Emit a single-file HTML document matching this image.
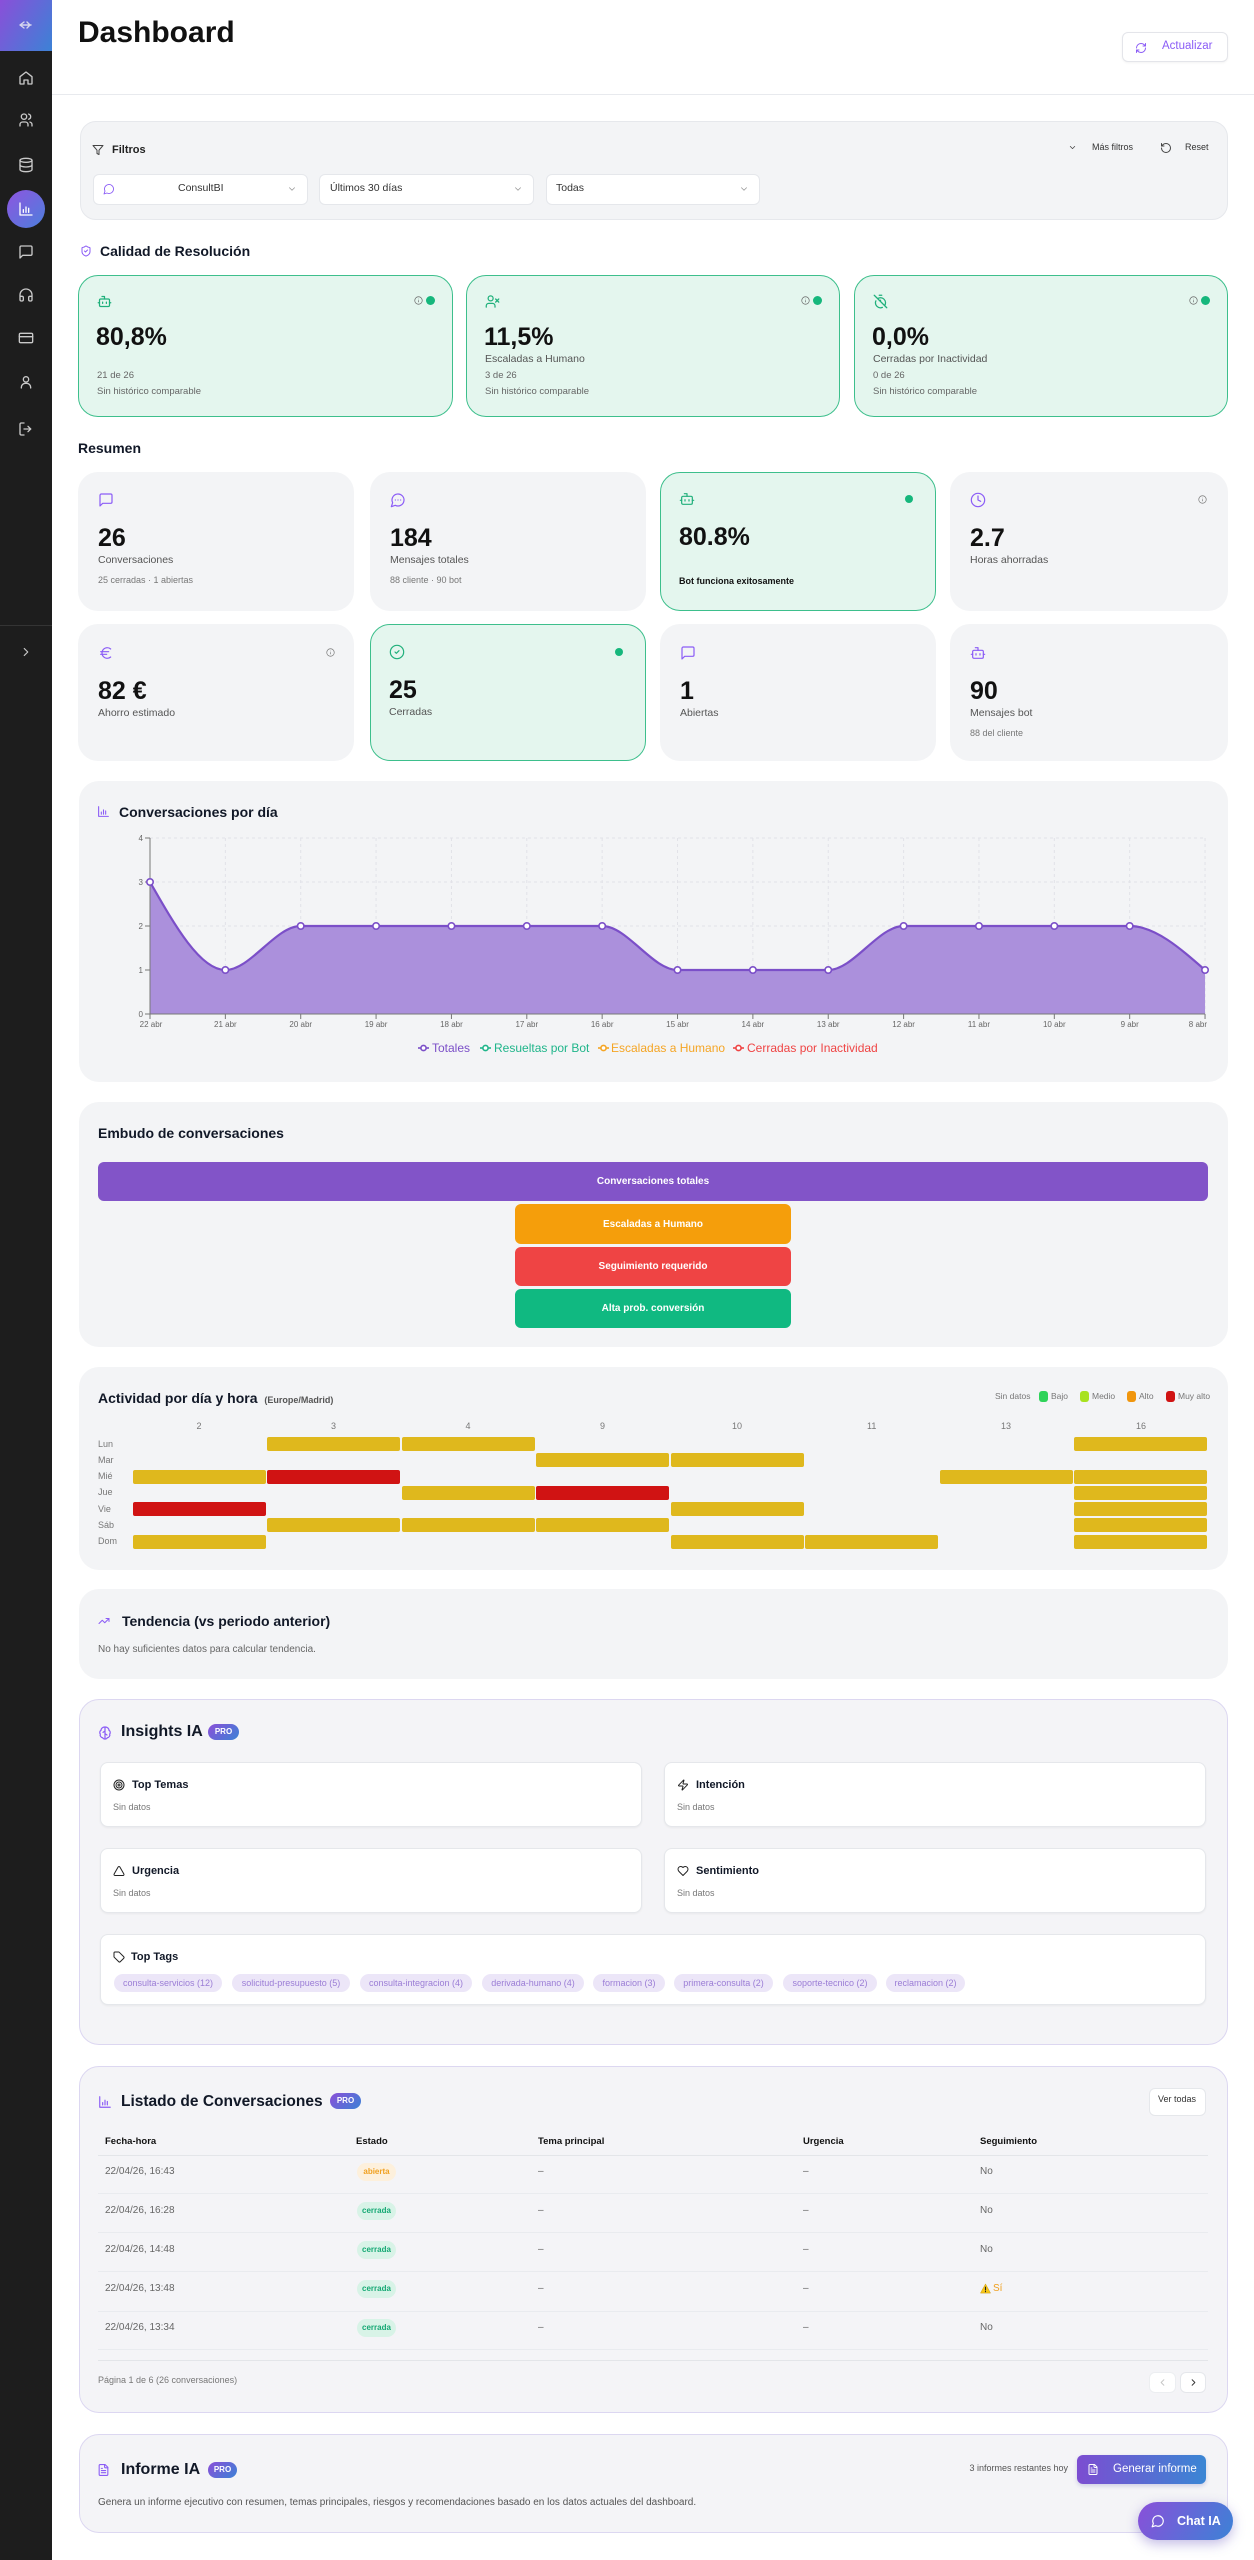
<!DOCTYPE html>
<html lang="es"><head><meta charset="utf-8"><title>Dashboard</title>
<style>
*{box-sizing:border-box;margin:0;padding:0}
html,body{width:1254px;height:2560px;overflow:hidden;background:#fff}
body{position:relative;font-family:"Liberation Sans",Arial,sans-serif;color:#111827}
.a{position:absolute}
.t{position:absolute;white-space:nowrap;line-height:1}
.b{font-weight:700}
.card{position:absolute;background:#f3f4f6;border-radius:20px}
.gr{background:#e4f6ee;border:1.5px solid #3dbf8c}
.lav{border:1.5px solid #dcd7f1;background:#f4f4f7}
svg.i{position:absolute;fill:none;stroke-linecap:round;stroke-linejoin:round;stroke-width:2}
.sb{stroke:#c9c9c9;width:16px;height:16px;left:18px}
.pu{stroke:#8b5cf6}
.gn{stroke:#20b07b}
.pro{position:absolute;height:16px;border-radius:8px;background:linear-gradient(135deg,#8b4fd8,#3b82d6);color:#fff;font-size:8px;font-weight:700;text-align:center;line-height:16px}
.sel{position:absolute;top:174px;height:31px;background:#fff;border:1px solid #e5e7eb;border-radius:6px}
.lbl{font-size:10.5px;color:#555}
.sub{font-size:9px;color:#777}
.num{font-size:25px;font-weight:700;color:#111}
.wc{position:absolute;background:#fff;border:1px solid #e5e7eb;border-radius:8px;box-shadow:0 1px 2px rgba(0,0,0,.05)}
.fb{position:absolute;border-radius:6px;color:#fff;font-weight:700;font-size:10px;display:flex;align-items:center;justify-content:center}
.hc{position:absolute;height:14px;width:133px;border-radius:2px;background:#dfb81d}
.hr{background:#d01313}
.chip{position:absolute;top:39px;height:18px;border-radius:9px;background:#ece6f8;color:#9b7dd6;font-size:9px;line-height:18px;text-align:center;white-space:nowrap}
.badge{position:absolute;left:357px;width:39px;height:18px;border-radius:9px;font-size:8px;font-weight:700;line-height:18px;text-align:center}
.ab{background:#fdf0dc;color:#f0a020}
.ce{background:#d8f3e7;color:#16a974}
.dot{position:absolute;width:9px;height:9px;border-radius:50%;background:#16b77c}
.row{font-size:10px;color:#666}
.hd{font-size:9.5px;font-weight:700;color:#111}
.hl{font-size:9px;color:#777}
.sep{position:absolute;left:98px;width:1110px;height:1px;background:#e9ebef}
</style></head><body>

<!-- SIDEBAR -->
<div class="a" style="left:0;top:0;width:52px;height:2560px;background:#1d1d1d"></div>
<div class="a" style="left:0;top:0;width:52px;height:51px;background:linear-gradient(120deg,#8a4fd9,#3c82d6)"></div>
<svg class="i" style="left:19px;top:20px;width:14px;height:10px" viewBox="0 0 14 10"><path d="M1 5h11M5 2 1 5l4 3M8 2l3 3-3 3" stroke="#d6d6ee" stroke-width="1.4"/></svg>
<svg class="i sb" style="top:70px" viewBox="0 0 24 24"><path d="M3 10 12 3l9 7v10a1 1 0 0 1-1 1h-5v-6h-6v6H4a1 1 0 0 1-1-1z"/></svg>
<svg class="i sb" style="top:112px" viewBox="0 0 24 24"><circle cx="9" cy="7" r="4"/><path d="M3 21v-2a4 4 0 0 1 4-4h4a4 4 0 0 1 4 4v2"/><path d="M16 3.13a4 4 0 0 1 0 7.75"/><path d="M21 21v-2a4 4 0 0 0-3-3.85"/></svg>
<svg class="i sb" style="top:157px" viewBox="0 0 24 24"><ellipse cx="12" cy="5" rx="9" ry="3"/><path d="M3 5v14c0 1.66 4 3 9 3s9-1.34 9-3V5"/><path d="M3 12c0 1.66 4 3 9 3s9-1.34 9-3"/></svg>
<div class="a" style="left:6.5px;top:190px;width:38px;height:38px;border-radius:50%;background:linear-gradient(135deg,#8e55e0,#4c7fdc)"></div>
<svg class="i" style="left:18px;top:201px;width:16px;height:16px;stroke:#fff" viewBox="0 0 24 24"><path d="M3 3v18h18"/><path d="M8 17v-4M12 17V9M16 17v-6"/></svg>
<svg class="i sb" style="top:244px" viewBox="0 0 24 24"><path d="M21 15a2 2 0 0 1-2 2H7l-4 4V5a2 2 0 0 1 2-2h14a2 2 0 0 1 2 2z"/></svg>
<svg class="i sb" style="top:287px" viewBox="0 0 24 24"><path d="M3 14h3a2 2 0 0 1 2 2v3a2 2 0 0 1-2 2H5a2 2 0 0 1-2-2v-7a9 9 0 0 1 18 0v7a2 2 0 0 1-2 2h-1a2 2 0 0 1-2-2v-3a2 2 0 0 1 2-2h3"/></svg>
<svg class="i sb" style="top:330px" viewBox="0 0 24 24"><rect x="2" y="5" width="20" height="14" rx="2"/><path d="M2 10h20"/></svg>
<svg class="i sb" style="top:374px" viewBox="0 0 24 24"><circle cx="12" cy="8" r="4"/><path d="M5 21v-1a6 6 0 0 1 6-6h2a6 6 0 0 1 6 6v1"/></svg>
<svg class="i sb" style="top:421px" viewBox="0 0 24 24"><path d="M9 3H5a2 2 0 0 0-2 2v14a2 2 0 0 0 2 2h4"/><path d="m15 8 4 4-4 4"/><path d="M19 12H9"/></svg>
<div class="a" style="left:0;top:625px;width:52px;height:1px;background:#343434"></div>
<svg class="i" style="left:19px;top:645px;width:14px;height:14px;stroke:#c9c9c9" viewBox="0 0 24 24"><path d="m9 18 6-6-6-6"/></svg>

<!-- HEADER -->
<div class="t b" style="left:78px;top:18px;font-size:30px;color:#111">Dashboard</div>
<div class="a" style="left:52px;top:94px;width:1202px;height:1px;background:#e8eaee"></div>
<div class="a" style="left:1122px;top:32px;width:106px;height:30px;border:1px solid #e4e5ea;border-radius:6px;background:#fff;box-shadow:0 1px 2px rgba(0,0,0,.05)"></div>
<svg class="i pu" style="left:1135px;top:42px;width:12px;height:12px" viewBox="0 0 24 24"><path d="M3 12a9 9 0 0 1 9-9 9.75 9.75 0 0 1 6.74 2.74L21 8"/><path d="M21 3v5h-5"/><path d="M21 12a9 9 0 0 1-9 9 9.75 9.75 0 0 1-6.74-2.74L3 16"/><path d="M8 16H3v5"/></svg>
<div class="t" style="left:1162px;top:41px;font-size:11.5px;color:#8b5cf6">Actualizar</div>

<!-- FILTERS -->
<div class="a" style="left:80px;top:121px;width:1148px;height:99px;background:#f3f4f6;border:1px solid #e6e8ec;border-radius:16px"></div>
<svg class="i" style="left:92px;top:144px;width:12px;height:12px;stroke:#444" viewBox="0 0 24 24"><path d="M22 3H2l8 9.46V19l4 2v-8.54z"/></svg>
<div class="t b" style="left:112px;top:145px;font-size:11px;color:#222">Filtros</div>
<svg class="i" style="left:1068px;top:143px;width:9px;height:9px;stroke:#444" viewBox="0 0 24 24"><path d="m6 9 6 6 6-6"/></svg>
<div class="t" style="left:1092px;top:142.5px;font-size:9px;color:#333">Más filtros</div>
<svg class="i" style="left:1160px;top:142px;width:12px;height:12px;stroke:#444" viewBox="0 0 24 24"><path d="M3 12a9 9 0 1 0 9-9 9.75 9.75 0 0 0-6.74 2.74L3 8"/><path d="M3 3v5h5"/></svg>
<div class="t" style="left:1185px;top:142.5px;font-size:9px;color:#333">Reset</div>
<div class="sel" style="left:93px;width:215px"></div>
<div class="sel" style="left:319px;width:215px"></div>
<div class="sel" style="left:546px;width:214px"></div>
<svg class="i pu" style="left:103px;top:183px;width:12px;height:12px;stroke-width:1.8" viewBox="0 0 24 24"><path d="M7.9 20A9 9 0 1 0 4 16.1L2 22Z"/></svg>
<div class="t" style="left:178px;top:183px;font-size:10.5px;color:#333">ConsultBI</div>
<div class="t" style="left:330px;top:183px;font-size:10.5px;color:#333">Últimos 30 días</div>
<div class="t" style="left:556px;top:183px;font-size:10.5px;color:#333">Todas</div>
<svg class="i" style="left:287px;top:184px;width:10px;height:10px;stroke:#999" viewBox="0 0 24 24"><path d="m6 9 6 6 6-6"/></svg>
<svg class="i" style="left:513px;top:184px;width:10px;height:10px;stroke:#999" viewBox="0 0 24 24"><path d="m6 9 6 6 6-6"/></svg>
<svg class="i" style="left:739px;top:184px;width:10px;height:10px;stroke:#999" viewBox="0 0 24 24"><path d="m6 9 6 6 6-6"/></svg>

<!-- CALIDAD -->
<svg class="i pu" style="left:80px;top:245px;width:12px;height:12px" viewBox="0 0 24 24"><path d="M20 13c0 5-3.5 7.5-7.66 8.95a1 1 0 0 1-.67-.01C7.5 20.5 4 18 4 13V6a1 1 0 0 1 1-1c2 0 4.5-1.2 6.24-2.72a1.17 1.17 0 0 1 1.52 0C14.51 3.81 17 5 19 5a1 1 0 0 1 1 1z"/><path d="m9 12 2 2 4-4"/></svg>
<div class="t b" style="left:100px;top:244px;font-size:14px">Calidad de Resolución</div>

<div class="card gr" style="left:78px;top:275px;width:375px;height:142px">
  <svg class="i gn" style="left:18px;top:18px;width:15px;height:15px" viewBox="0 0 24 24"><path d="M12 8V4H8"/><rect width="16" height="12" x="4" y="8" rx="2"/><path d="M2 14h2M20 14h2M15 13v2M9 13v2"/></svg>
  <svg class="i" style="left:335px;top:20px;width:9px;height:9px;stroke:#666;stroke-width:1.8" viewBox="0 0 24 24"><circle cx="12" cy="12" r="10"/><path d="M12 16v-4M12 8h.01"/></svg>
  <div class="dot" style="left:347px;top:20px"></div>
  <div class="t num" style="left:17px;top:49px">80,8%</div>
  <div class="t sub" style="left:18px;top:95px;font-size:9.5px;color:#666">21 de 26</div>
  <div class="t sub" style="left:18px;top:111px;font-size:9.5px;color:#666">Sin histórico comparable</div>
</div>
<div class="card gr" style="left:466px;top:275px;width:374px;height:142px">
  <svg class="i gn" style="left:18px;top:18px;width:15px;height:15px" viewBox="0 0 24 24"><circle cx="9" cy="7" r="4"/><path d="M2 21v-2a4 4 0 0 1 4-4h6a4 4 0 0 1 4 4v2"/><path d="m17 8 5 5M22 8l-5 5"/></svg>
  <svg class="i" style="left:334px;top:20px;width:9px;height:9px;stroke:#666;stroke-width:1.8" viewBox="0 0 24 24"><circle cx="12" cy="12" r="10"/><path d="M12 16v-4M12 8h.01"/></svg>
  <div class="dot" style="left:346px;top:20px"></div>
  <div class="t num" style="left:17px;top:49px">11,5%</div>
  <div class="t lbl" style="left:18px;top:77.5px">Escaladas a Humano</div>
  <div class="t sub" style="left:18px;top:95px;font-size:9.5px;color:#666">3 de 26</div>
  <div class="t sub" style="left:18px;top:111px;font-size:9.5px;color:#666">Sin histórico comparable</div>
</div>
<div class="card gr" style="left:854px;top:275px;width:374px;height:142px">
  <svg class="i gn" style="left:18px;top:18px;width:15px;height:15px" viewBox="0 0 24 24"><path d="M10 2h4M4.6 11a8 8 0 0 0 1.7 8.7 8 8 0 0 0 8.7 1.7M7.4 7.4a8 8 0 0 1 10.3 1 8 8 0 0 1 .9 10.2M2 2l20 20M12 12v-2"/></svg>
  <svg class="i" style="left:334px;top:20px;width:9px;height:9px;stroke:#666;stroke-width:1.8" viewBox="0 0 24 24"><circle cx="12" cy="12" r="10"/><path d="M12 16v-4M12 8h.01"/></svg>
  <div class="dot" style="left:346px;top:20px"></div>
  <div class="t num" style="left:17px;top:49px">0,0%</div>
  <div class="t lbl" style="left:18px;top:77.5px">Cerradas por Inactividad</div>
  <div class="t sub" style="left:18px;top:95px;font-size:9.5px;color:#666">0 de 26</div>
  <div class="t sub" style="left:18px;top:111px;font-size:9.5px;color:#666">Sin histórico comparable</div>
</div>

<!-- RESUMEN -->
<div class="t b" style="left:78px;top:441px;font-size:14px">Resumen</div>

<div class="card" style="left:78px;top:472px;width:276px;height:139px">
  <svg class="i pu" style="left:20px;top:20px;width:16px;height:16px;stroke-width:1.8" viewBox="0 0 24 24"><path d="M21 15a2 2 0 0 1-2 2H7l-4 4V5a2 2 0 0 1 2-2h14a2 2 0 0 1 2 2z"/></svg>
  <div class="t num" style="left:20px;top:54px">26</div>
  <div class="t lbl" style="left:20px;top:82.5px">Conversaciones</div>
  <div class="t sub" style="left:20px;top:103.5px">25 cerradas · 1 abiertas</div>
</div>
<div class="card" style="left:370px;top:472px;width:276px;height:139px">
  <svg class="i pu" style="left:20px;top:20px;width:16px;height:16px;stroke-width:1.8" viewBox="0 0 24 24"><path d="M7.9 20A9 9 0 1 0 4 16.1L2 22Z"/><path d="M8 12h.01M12 12h.01M16 12h.01"/></svg>
  <div class="t num" style="left:20px;top:54px">184</div>
  <div class="t lbl" style="left:20px;top:82.5px">Mensajes totales</div>
  <div class="t sub" style="left:20px;top:103.5px">88 cliente · 90 bot</div>
</div>
<div class="card gr" style="left:660px;top:472px;width:276px;height:139px">
  <svg class="i gn" style="left:18px;top:18px;width:16px;height:16px;stroke-width:1.8" viewBox="0 0 24 24"><path d="M12 8V4H8"/><rect width="16" height="12" x="4" y="8" rx="2"/><path d="M2 14h2M20 14h2M15 13v2M9 13v2"/></svg>
  <div class="dot" style="left:244px;top:22px;width:8px;height:8px"></div>
  <div class="t num" style="left:18px;top:52px">80.8%</div>
  <div class="t b" style="left:18px;top:104px;font-size:9px;color:#111">Bot funciona exitosamente</div>
</div>
<div class="card" style="left:950px;top:472px;width:278px;height:139px">
  <svg class="i pu" style="left:20px;top:20px;width:16px;height:16px;stroke-width:1.8" viewBox="0 0 24 24"><circle cx="12" cy="12" r="10"/><path d="M12 6v6l4 2"/></svg>
  <svg class="i" style="left:248px;top:23px;width:9px;height:9px;stroke:#777;stroke-width:1.8" viewBox="0 0 24 24"><circle cx="12" cy="12" r="10"/><path d="M12 16v-4M12 8h.01"/></svg>
  <div class="t num" style="left:20px;top:54px">2.7</div>
  <div class="t lbl" style="left:20px;top:82.5px">Horas ahorradas</div>
</div>

<div class="card" style="left:78px;top:624px;width:276px;height:137px">
  <svg class="i pu" style="left:20px;top:21px;width:16px;height:16px;stroke-width:1.8" viewBox="0 0 24 24"><path d="M4 10h12M4 14h9M19 6a7.7 7.7 0 0 0-5.2-2A7.9 7.9 0 0 0 6 12c0 4.4 3.5 8 7.8 8 2 0 3.8-.8 5.2-2"/></svg>
  <svg class="i" style="left:248px;top:24px;width:9px;height:9px;stroke:#777;stroke-width:1.8" viewBox="0 0 24 24"><circle cx="12" cy="12" r="10"/><path d="M12 16v-4M12 8h.01"/></svg>
  <div class="t num" style="left:20px;top:55px">82 €</div>
  <div class="t lbl" style="left:20px;top:83.5px">Ahorro estimado</div>
</div>
<div class="card gr" style="left:370px;top:624px;width:276px;height:137px">
  <svg class="i gn" style="left:18px;top:19px;width:16px;height:16px;stroke-width:1.8" viewBox="0 0 24 24"><circle cx="12" cy="12" r="10"/><path d="m9 12 2 2 4-4"/></svg>
  <div class="dot" style="left:244px;top:23px;width:8px;height:8px"></div>
  <div class="t num" style="left:18px;top:53px">25</div>
  <div class="t lbl" style="left:18px;top:82px">Cerradas</div>
</div>
<div class="card" style="left:660px;top:624px;width:276px;height:137px">
  <svg class="i pu" style="left:20px;top:21px;width:16px;height:16px;stroke-width:1.8" viewBox="0 0 24 24"><path d="M21 15a2 2 0 0 1-2 2H7l-4 4V5a2 2 0 0 1 2-2h14a2 2 0 0 1 2 2z"/></svg>
  <div class="t num" style="left:20px;top:55px">1</div>
  <div class="t lbl" style="left:20px;top:83.5px">Abiertas</div>
</div>
<div class="card" style="left:950px;top:624px;width:278px;height:137px">
  <svg class="i pu" style="left:20px;top:21px;width:16px;height:16px;stroke-width:1.8" viewBox="0 0 24 24"><path d="M12 8V4H8"/><rect width="16" height="12" x="4" y="8" rx="2"/><path d="M2 14h2M20 14h2M15 13v2M9 13v2"/></svg>
  <div class="t num" style="left:20px;top:55px">90</div>
  <div class="t lbl" style="left:20px;top:83.5px">Mensajes bot</div>
  <div class="t sub" style="left:20px;top:104.5px">88 del cliente</div>
</div>

<!-- CHART -->
<div class="card" style="left:79px;top:781px;width:1149px;height:301px"></div>
<svg class="i pu" style="left:97px;top:805px;width:13px;height:13px" viewBox="0 0 24 24"><path d="M3 3v18h18"/><path d="M8 17v-4M12 17V9M16 17v-6"/></svg>
<div class="t b" style="left:119px;top:805px;font-size:14px">Conversaciones por día</div>
<svg class="a" style="left:79px;top:781px" width="1149" height="301" viewBox="79 781 1149 301" font-family="Liberation Sans, Arial, sans-serif">
  <g stroke="#e1e2e8" stroke-width="1" stroke-dasharray="3 3" fill="none">
    <path d="M150 838H1205M150 882H1205M150 926H1205M150 970H1205"/>
    <path d="M225.36 838V1014M300.72 838V1014M376.08 838V1014M451.44 838V1014M526.8 838V1014M602.16 838V1014M677.52 838V1014M752.88 838V1014M828.24 838V1014M903.6 838V1014M978.96 838V1014M1054.32 838V1014M1129.68 838V1014M1205.04 838V1014"/>
  </g>
  <path d="M150,882 C175.12,926 200.24,970 225.36,970 C250.48,970 275.6,926 300.72,926 L602.16,926 C627.28,926 652.4,970 677.52,970 L828.24,970 C853.36,970 878.48,926 903.6,926 L1129.68,926 C1154.8,926 1179.92,948 1205.04,970 L1205.04,1014 L150,1014 Z" fill="#ab90dc"/>
  <path d="M150,882 C175.12,926 200.24,970 225.36,970 C250.48,970 275.6,926 300.72,926 L602.16,926 C627.28,926 652.4,970 677.52,970 L828.24,970 C853.36,970 878.48,926 903.6,926 L1129.68,926 C1154.8,926 1179.92,948 1205.04,970" fill="none" stroke="#7b4fc8" stroke-width="2.2"/>
  <g stroke="#777" stroke-width="1" fill="none">
    <path d="M150 838V1014H1205"/>
    <path d="M145 838H150M145 882H150M145 926H150M145 970H150M145 1014H150"/>
    <path d="M150 1014V1019M225.36 1014V1019M300.72 1014V1019M376.08 1014V1019M451.44 1014V1019M526.8 1014V1019M602.16 1014V1019M677.52 1014V1019M752.88 1014V1019M828.24 1014V1019M903.6 1014V1019M978.96 1014V1019M1054.32 1014V1019M1129.68 1014V1019M1205.04 1014V1019"/>
  </g>
  <g fill="#fff" stroke="#7b4fc8" stroke-width="1.6">
    <circle cx="150" cy="882" r="3.2"/><circle cx="225.36" cy="970" r="3.2"/><circle cx="300.72" cy="926" r="3.2"/><circle cx="376.08" cy="926" r="3.2"/><circle cx="451.44" cy="926" r="3.2"/><circle cx="526.8" cy="926" r="3.2"/><circle cx="602.16" cy="926" r="3.2"/><circle cx="677.52" cy="970" r="3.2"/><circle cx="752.88" cy="970" r="3.2"/><circle cx="828.24" cy="970" r="3.2"/><circle cx="903.6" cy="926" r="3.2"/><circle cx="978.96" cy="926" r="3.2"/><circle cx="1054.32" cy="926" r="3.2"/><circle cx="1129.68" cy="926" r="3.2"/><circle cx="1205.04" cy="970" r="3.2"/>
  </g>
  <g font-size="8" fill="#666" text-anchor="end">
    <text x="143" y="841">4</text><text x="143" y="885">3</text><text x="143" y="929">2</text><text x="143" y="973">1</text><text x="143" y="1017">0</text>
  </g>
  <g font-size="8" fill="#666" text-anchor="middle">
    <text x="151" y="1027">22 abr</text><text x="225.36" y="1027">21 abr</text><text x="300.72" y="1027">20 abr</text><text x="376.08" y="1027">19 abr</text><text x="451.44" y="1027">18 abr</text><text x="526.8" y="1027">17 abr</text><text x="602.16" y="1027">16 abr</text><text x="677.52" y="1027">15 abr</text><text x="752.88" y="1027">14 abr</text><text x="828.24" y="1027">13 abr</text><text x="903.6" y="1027">12 abr</text><text x="978.96" y="1027">11 abr</text><text x="1054.32" y="1027">10 abr</text><text x="1129.68" y="1027">9 abr</text><text x="1207" y="1027" text-anchor="end">8 abr</text>
  </g>
  <g stroke-width="1.6">
    <path d="M418 1048H429" stroke="#7b4fc8"/><circle cx="423.5" cy="1048" r="2.6" fill="#fff" stroke="#7b4fc8"/>
    <path d="M480 1048H491" stroke="#1fb58a"/><circle cx="485.5" cy="1048" r="2.6" fill="#fff" stroke="#1fb58a"/>
    <path d="M598 1048H609" stroke="#f5a524"/><circle cx="603.5" cy="1048" r="2.6" fill="#fff" stroke="#f5a524"/>
    <path d="M733 1048H744" stroke="#ef4444"/><circle cx="738.5" cy="1048" r="2.6" fill="#fff" stroke="#ef4444"/>
  </g>
  <g font-size="12">
    <text x="432" y="1052" fill="#7b4fc8">Totales</text>
    <text x="494" y="1052" fill="#1fb58a">Resueltas por Bot</text>
    <text x="611" y="1052" fill="#f5a524">Escaladas a Humano</text>
    <text x="747" y="1052" fill="#ef4444">Cerradas por Inactividad</text>
  </g>
</svg>

<!-- FUNNEL -->
<div class="card" style="left:79px;top:1102px;width:1149px;height:245px"></div>
<div class="t b" style="left:98px;top:1126px;font-size:14px">Embudo de conversaciones</div>
<div class="fb" style="left:98px;top:1162px;width:1110px;height:39px;background:#8254c8">Conversaciones totales</div>
<div class="fb" style="left:515px;top:1204px;width:276px;height:40px;background:#f59e0b">Escaladas a Humano</div>
<div class="fb" style="left:515px;top:1247px;width:276px;height:39px;background:#ef4444">Seguimiento requerido</div>
<div class="fb" style="left:515px;top:1289px;width:276px;height:39px;background:#10b981">Alta prob. conversión</div>

<!-- HEATMAP -->
<div class="card" style="left:79px;top:1367px;width:1149px;height:203px"></div>
<div class="t b" style="left:98px;top:1391px;font-size:14px">Actividad por día y hora <span style="font-size:9px;color:#555;margin-left:3px">(Europe/Madrid)</span></div>
<div class="t" style="left:995px;top:1392px;font-size:8.5px;color:#777">Sin datos</div>
<div class="a" style="left:1039px;top:1391px;width:9px;height:11px;border-radius:3px;background:#2fd35a"></div>
<div class="t" style="left:1051px;top:1392px;font-size:8.5px;color:#777">Bajo</div>
<div class="a" style="left:1080px;top:1391px;width:9px;height:11px;border-radius:3px;background:#a8e21f"></div>
<div class="t" style="left:1092px;top:1392px;font-size:8.5px;color:#777">Medio</div>
<div class="a" style="left:1127px;top:1391px;width:9px;height:11px;border-radius:3px;background:#f0960e"></div>
<div class="t" style="left:1139px;top:1392px;font-size:8.5px;color:#777">Alto</div>
<div class="a" style="left:1166px;top:1391px;width:9px;height:11px;border-radius:3px;background:#d01313"></div>
<div class="t" style="left:1178px;top:1392px;font-size:8.5px;color:#777">Muy alto</div>

<div class="t hl" style="left:196.5px;top:1421.5px">2</div>
<div class="t hl" style="left:331px;top:1421.5px">3</div>
<div class="t hl" style="left:465.5px;top:1421.5px">4</div>
<div class="t hl" style="left:600px;top:1421.5px">9</div>
<div class="t hl" style="left:732px;top:1421.5px">10</div>
<div class="t hl" style="left:867px;top:1421.5px">11</div>
<div class="t hl" style="left:1001px;top:1421.5px">13</div>
<div class="t hl" style="left:1136px;top:1421.5px">16</div>

<div class="t hl" style="left:98px;top:1439.5px">Lun</div>
<div class="t hl" style="left:98px;top:1455.8px">Mar</div>
<div class="t hl" style="left:98px;top:1472px">Mié</div>
<div class="t hl" style="left:98px;top:1488.3px">Jue</div>
<div class="t hl" style="left:98px;top:1504.6px">Vie</div>
<div class="t hl" style="left:98px;top:1520.9px">Sáb</div>
<div class="t hl" style="left:98px;top:1537.1px">Dom</div>

<!-- Lun -->
<div class="hc" style="left:267px;top:1437px"></div>
<div class="hc" style="left:401.5px;top:1437px"></div>
<div class="hc" style="left:1074px;top:1437px"></div>
<!-- Mar -->
<div class="hc" style="left:536px;top:1453.3px"></div>
<div class="hc" style="left:670.5px;top:1453.3px"></div>
<!-- Mie -->
<div class="hc" style="left:132.5px;top:1469.5px"></div>
<div class="hc hr" style="left:267px;top:1469.5px"></div>
<div class="hc" style="left:939.5px;top:1469.5px"></div>
<div class="hc" style="left:1074px;top:1469.5px"></div>
<!-- Jue -->
<div class="hc" style="left:401.5px;top:1485.8px"></div>
<div class="hc hr" style="left:536px;top:1485.8px"></div>
<div class="hc" style="left:1074px;top:1485.8px"></div>
<!-- Vie -->
<div class="hc hr" style="left:132.5px;top:1502.1px"></div>
<div class="hc" style="left:670.5px;top:1502.1px"></div>
<div class="hc" style="left:1074px;top:1502.1px"></div>
<!-- Sab -->
<div class="hc" style="left:267px;top:1518.4px"></div>
<div class="hc" style="left:401.5px;top:1518.4px"></div>
<div class="hc" style="left:536px;top:1518.4px"></div>
<div class="hc" style="left:1074px;top:1518.4px"></div>
<!-- Dom -->
<div class="hc" style="left:132.5px;top:1534.6px"></div>
<div class="hc" style="left:670.5px;top:1534.6px"></div>
<div class="hc" style="left:805px;top:1534.6px"></div>
<div class="hc" style="left:1074px;top:1534.6px"></div>

<!-- TENDENCIA -->
<div class="card" style="left:79px;top:1589px;width:1149px;height:90px"></div>
<svg class="i pu" style="left:98px;top:1615px;width:12px;height:12px" viewBox="0 0 24 24"><path d="M22 7 13.5 15.5 8.5 10.5 2 17"/><path d="M16 7h6v6"/></svg>
<div class="t b" style="left:122px;top:1614px;font-size:14px">Tendencia (vs periodo anterior)</div>
<div class="t" style="left:98px;top:1645px;font-size:10px;color:#666">No hay suficientes datos para calcular tendencia.</div>

<!-- INSIGHTS -->
<div class="card lav" style="left:79px;top:1699px;width:1149px;height:346px">
  <svg class="i pu" style="left:18px;top:25px;width:14px;height:16px;stroke-width:1.8" viewBox="0 0 20 24"><path d="M10 3C6 3 4 5.5 4 8c-2 1-2.5 4-1 5.5C2 16 4 19 6.5 19c.5 1.5 2 2 3.5 2s3-.5 3.5-2C16 19 18 16 17 13.5c1.5-1.5 1-4.5-1-5.5 0-2.5-2-5-6-5z"/><path d="M10 3v18M10 9l-3 2M10 13l3 2"/></svg>
  <div class="t b" style="left:41px;top:24px;font-size:16px">Insights IA</div>
  <div class="pro" style="left:128px;top:24px;width:31px">PRO</div>
</div>
<div class="wc" style="left:100px;top:1762px;width:542px;height:65px">
  <svg class="i" style="left:12px;top:16px;width:12px;height:12px;stroke:#222" viewBox="0 0 24 24"><circle cx="12" cy="12" r="10"/><circle cx="12" cy="12" r="6"/><circle cx="12" cy="12" r="2"/></svg>
  <div class="t b" style="left:31px;top:16.5px;font-size:11px">Top Temas</div>
  <div class="t" style="left:12px;top:39.5px;font-size:9px;color:#777">Sin datos</div>
</div>
<div class="wc" style="left:664px;top:1762px;width:542px;height:65px">
  <svg class="i" style="left:12px;top:16px;width:12px;height:12px;stroke:#222" viewBox="0 0 24 24"><path d="M4 14a1 1 0 0 1-.78-1.63l9.9-10.2a.5.5 0 0 1 .86.46l-1.92 6.02A1 1 0 0 0 13 10h7a1 1 0 0 1 .78 1.63l-9.9 10.2a.5.5 0 0 1-.86-.46l1.92-6.02A1 1 0 0 0 11 14z"/></svg>
  <div class="t b" style="left:31px;top:16.5px;font-size:11px">Intención</div>
  <div class="t" style="left:12px;top:39.5px;font-size:9px;color:#777">Sin datos</div>
</div>
<div class="wc" style="left:100px;top:1848px;width:542px;height:65px">
  <svg class="i" style="left:12px;top:16px;width:12px;height:12px;stroke:#222" viewBox="0 0 24 24"><path d="m21.73 18-8-14a2 2 0 0 0-3.48 0l-8 14A2 2 0 0 0 4 21h16a2 2 0 0 0 1.73-3"/></svg>
  <div class="t b" style="left:31px;top:16.5px;font-size:11px">Urgencia</div>
  <div class="t" style="left:12px;top:39.5px;font-size:9px;color:#777">Sin datos</div>
</div>
<div class="wc" style="left:664px;top:1848px;width:542px;height:65px">
  <svg class="i" style="left:12px;top:16px;width:12px;height:12px;stroke:#222" viewBox="0 0 24 24"><path d="M19 14c1.49-1.46 3-3.21 3-5.5A5.5 5.5 0 0 0 16.5 3c-1.76 0-3 .5-4.5 2-1.5-1.5-2.74-2-4.5-2A5.5 5.5 0 0 0 2 8.5c0 2.3 1.5 4.05 3 5.5l7 7Z"/></svg>
  <div class="t b" style="left:31px;top:16.5px;font-size:11px">Sentimiento</div>
  <div class="t" style="left:12px;top:39.5px;font-size:9px;color:#777">Sin datos</div>
</div>
<div class="wc" style="left:100px;top:1934px;width:1106px;height:71px">
  <svg class="i" style="left:12px;top:16px;width:12px;height:12px;stroke:#222" viewBox="0 0 24 24"><path d="M12.586 2.586A2 2 0 0 0 11.172 2H4a2 2 0 0 0-2 2v7.172a2 2 0 0 0 .586 1.414l8.704 8.704a2.426 2.426 0 0 0 3.42 0l6.58-6.58a2.426 2.426 0 0 0 0-3.42z"/></svg>
  <div class="t b" style="left:30px;top:16.5px;font-size:11px">Top Tags</div>
  <div class="chip" style="left:13px;width:108px">consulta-servicios (12)</div>
  <div class="chip" style="left:131px;width:118px">solicitud-presupuesto (5)</div>
  <div class="chip" style="left:259px;width:112px">consulta-integracion (4)</div>
  <div class="chip" style="left:381px;width:102px">derivada-humano (4)</div>
  <div class="chip" style="left:492px;width:72px">formacion (3)</div>
  <div class="chip" style="left:573px;width:99px">primera-consulta (2)</div>
  <div class="chip" style="left:682px;width:94px">soporte-tecnico (2)</div>
  <div class="chip" style="left:785px;width:79px">reclamacion (2)</div>
</div>

<!-- LISTADO -->
<div class="card lav" style="left:79px;top:2066px;width:1149px;height:347px"></div>
<svg class="i pu" style="left:98px;top:2095px;width:14px;height:14px" viewBox="0 0 24 24"><path d="M3 3v18h18"/><path d="M8 17v-4M12 17V9M16 17v-6"/></svg>
<div class="t b" style="left:121px;top:2094px;font-size:15.5px">Listado de Conversaciones</div>
<div class="pro" style="left:330px;top:2093px;width:31px">PRO</div>
<div class="a" style="left:1149px;top:2088px;width:57px;height:28px;background:#fff;border:1px solid #e5e7eb;border-radius:6px"></div>
<div class="t" style="left:1158px;top:2095px;font-size:9px;color:#333">Ver todas</div>

<div class="t hd" style="left:105px;top:2137px">Fecha-hora</div>
<div class="t hd" style="left:356px;top:2137px">Estado</div>
<div class="t hd" style="left:538px;top:2137px">Tema principal</div>
<div class="t hd" style="left:803px;top:2137px">Urgencia</div>
<div class="t hd" style="left:980px;top:2137px">Seguimiento</div>
<div class="sep" style="top:2155px;background:#e3e5e9"></div>

<div class="t row" style="left:105px;top:2167px">22/04/26, 16:43</div>
<div class="badge ab" style="top:2163px">abierta</div>
<div class="t row" style="left:538px;top:2167px">–</div>
<div class="t row" style="left:803px;top:2167px">–</div>
<div class="t row" style="left:980px;top:2167px">No</div>
<div class="sep" style="top:2193px"></div>

<div class="t row" style="left:105px;top:2206px">22/04/26, 16:28</div>
<div class="badge ce" style="top:2202px">cerrada</div>
<div class="t row" style="left:538px;top:2206px">–</div>
<div class="t row" style="left:803px;top:2206px">–</div>
<div class="t row" style="left:980px;top:2206px">No</div>
<div class="sep" style="top:2232px"></div>

<div class="t row" style="left:105px;top:2245px">22/04/26, 14:48</div>
<div class="badge ce" style="top:2241px">cerrada</div>
<div class="t row" style="left:538px;top:2245px">–</div>
<div class="t row" style="left:803px;top:2245px">–</div>
<div class="t row" style="left:980px;top:2245px">No</div>
<div class="sep" style="top:2271px"></div>

<div class="t row" style="left:105px;top:2284px">22/04/26, 13:48</div>
<div class="badge ce" style="top:2280px">cerrada</div>
<div class="t row" style="left:538px;top:2284px">–</div>
<div class="t row" style="left:803px;top:2284px">–</div>
<svg class="a" style="left:980px;top:2283px" width="11" height="11" viewBox="0 0 24 24"><path d="M12 2 1 22h22z" fill="#f5c518" stroke="#c8960c" stroke-width="1"/><path d="M12 9v6M12 18v1" stroke="#222" stroke-width="2.4" stroke-linecap="round"/></svg>
<div class="t row" style="left:993px;top:2284px;color:#f0a020">Sí</div>
<div class="sep" style="top:2311px"></div>

<div class="t row" style="left:105px;top:2323px">22/04/26, 13:34</div>
<div class="badge ce" style="top:2319px">cerrada</div>
<div class="t row" style="left:538px;top:2323px">–</div>
<div class="t row" style="left:803px;top:2323px">–</div>
<div class="t row" style="left:980px;top:2323px">No</div>
<div class="sep" style="top:2349px"></div>
<div class="sep" style="top:2360px;background:#e3e5e9"></div>

<div class="t" style="left:98px;top:2375.5px;font-size:9px;color:#777">Página 1 de 6 (26 conversaciones)</div>
<div class="a" style="left:1149px;top:2372px;width:27px;height:21px;background:#fff;border:1px solid #eceef1;border-radius:6px"></div>
<svg class="i" style="left:1157px;top:2377px;width:11px;height:11px;stroke:#c4c4c4" viewBox="0 0 24 24"><path d="m15 18-6-6 6-6"/></svg>
<div class="a" style="left:1180px;top:2372px;width:26px;height:21px;background:#fff;border:1px solid #e5e7eb;border-radius:6px"></div>
<svg class="i" style="left:1187.5px;top:2377px;width:11px;height:11px;stroke:#333" viewBox="0 0 24 24"><path d="m9 18 6-6-6-6"/></svg>

<!-- INFORME -->
<div class="card lav" style="left:79px;top:2434px;width:1149px;height:99px"></div>
<svg class="i pu" style="left:97px;top:2463px;width:13px;height:14px" viewBox="0 0 24 24"><path d="M15 2H6a2 2 0 0 0-2 2v16a2 2 0 0 0 2 2h12a2 2 0 0 0 2-2V7Z"/><path d="M14 2v4a2 2 0 0 0 2 2h4M10 9H8M16 13H8M16 17H8"/></svg>
<div class="t b" style="left:121px;top:2462px;font-size:16px">Informe IA</div>
<div class="pro" style="left:208px;top:2462px;width:29px">PRO</div>
<div class="t" style="right:186px;top:2463.5px;font-size:9px;color:#555">3 informes restantes hoy</div>
<div class="a" style="left:1077px;top:2455px;width:129px;height:29px;border-radius:6px;background:linear-gradient(90deg,#7c4dd1,#3a86d4);box-shadow:0 2px 4px rgba(60,60,160,.2)"></div>
<svg class="i" style="left:1087px;top:2463px;width:12px;height:13px;stroke:#fff" viewBox="0 0 24 24"><path d="M15 2H6a2 2 0 0 0-2 2v16a2 2 0 0 0 2 2h12a2 2 0 0 0 2-2V7Z"/><path d="M14 2v4a2 2 0 0 0 2 2h4M10 9H8M16 13H8M16 17H8"/></svg>
<div class="t" style="left:1113px;top:2464px;font-size:11.5px;color:#fff">Generar informe</div>
<div class="t" style="left:98px;top:2498px;font-size:10px;color:#555">Genera un informe ejecutivo con resumen, temas principales, riesgos y recomendaciones basado en los datos actuales del dashboard.</div>

<!-- CHAT IA -->
<div class="a" style="left:1138px;top:2502px;width:95px;height:38px;border-radius:19px;background:linear-gradient(120deg,#8a4fd9,#3c82d6);box-shadow:0 4px 12px rgba(80,60,180,.35)"></div>
<svg class="i" style="left:1151px;top:2514px;width:14px;height:14px;stroke:#fff" viewBox="0 0 24 24"><path d="M7.9 20A9 9 0 1 0 4 16.1L2 22Z"/></svg>
<div class="t b" style="left:1177px;top:2514.5px;font-size:12.5px;color:#fff">Chat IA</div>

</body></html>
